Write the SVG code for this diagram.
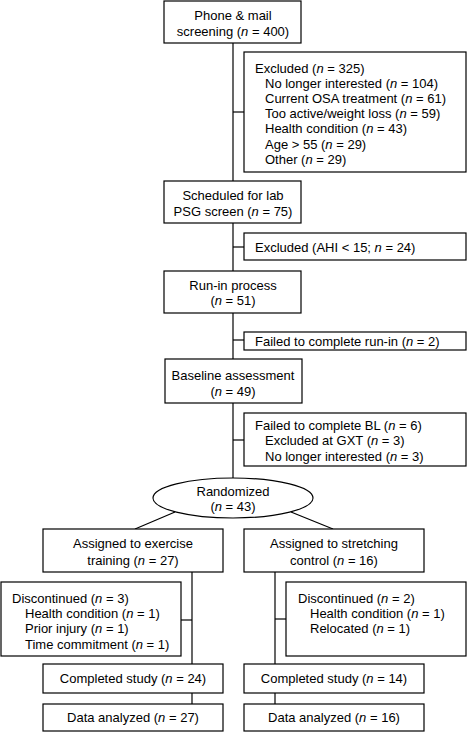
<svg xmlns="http://www.w3.org/2000/svg" width="467" height="732" viewBox="0 0 467 732">
<style>
.box{fill:#fff;stroke:#000;stroke-width:1.2}
.ln{fill:none;stroke:#000;stroke-width:1.2}
text{font-family:"Liberation Sans",Arial,sans-serif;font-size:13px;fill:#000}
.c{text-anchor:middle}
.i{font-style:italic}
</style>
<rect width="467" height="732" fill="#fff"/>
<g id="connectors">
<line class="ln" x1="233" y1="43" x2="233" y2="478"/>
<line class="ln" x1="233" y1="112" x2="244" y2="112"/>
<line class="ln" x1="233" y1="247" x2="244" y2="247"/>
<line class="ln" x1="233" y1="340" x2="244" y2="340"/>
<line class="ln" x1="233" y1="440" x2="244" y2="440"/>
<line class="ln" x1="175" y1="512" x2="135" y2="529"/>
<line class="ln" x1="291" y1="512" x2="333" y2="529"/>
<line class="ln" x1="192" y1="572" x2="192" y2="704"/>
<line class="ln" x1="181" y1="620" x2="192" y2="620"/>
<line class="ln" x1="275" y1="572" x2="275" y2="704"/>
<line class="ln" x1="275" y1="619" x2="286" y2="619"/>
</g>
<g id="screening">
<rect class="box" x="164" y="1" width="137" height="42"/>
<text class="c" x="233" y="20">Phone &amp; mail</text>
<text class="c" x="233" y="36">screening (<tspan class="i">n</tspan> = 400)</text>
</g>
<g id="excluded1">
<rect class="box" x="244" y="52" width="222" height="120"/>
<text x="255" y="73">Excluded (<tspan class="i">n</tspan> = 325)</text>
<text x="265" y="88">No longer interested (<tspan class="i">n</tspan> = 104)</text>
<text x="265" y="103">Current OSA treatment (<tspan class="i">n</tspan> = 61)</text>
<text x="265" y="118">Too active/weight loss (<tspan class="i">n</tspan> = 59)</text>
<text x="265" y="133">Health condition (<tspan class="i">n</tspan> = 43)</text>
<text x="265" y="148.5">Age &gt; 55 (<tspan class="i">n</tspan> = 29)</text>
<text x="265" y="163.5">Other (<tspan class="i">n</tspan> = 29)</text>
</g>
<g id="scheduled">
<rect class="box" x="164" y="181" width="137" height="42"/>
<text class="c" x="233" y="199.5">Scheduled for lab</text>
<text class="c" x="233" y="215.5">PSG screen (<tspan class="i">n</tspan> = 75)</text>
</g>
<g id="excluded2">
<rect class="box" x="244" y="233" width="222" height="27"/>
<text x="255" y="252">Excluded (AHI &lt; 15; <tspan class="i">n</tspan> = 24)</text>
</g>
<g id="runin">
<rect class="box" x="164" y="271" width="137" height="42"/>
<text class="c" x="233" y="289.5">Run-in process</text>
<text class="c" x="233" y="305">(<tspan class="i">n</tspan> = 51)</text>
</g>
<g id="failedrunin">
<rect class="box" x="244" y="332" width="222" height="18"/>
<text x="255" y="345.5">Failed to complete run-in (<tspan class="i">n</tspan> = 2)</text>
</g>
<g id="baseline">
<rect class="box" x="165" y="359" width="137" height="44"/>
<text class="c" x="233" y="379.5">Baseline assessment</text>
<text class="c" x="233" y="395.5">(<tspan class="i">n</tspan> = 49)</text>
</g>
<g id="failedbl">
<rect class="box" x="244" y="413" width="222" height="53"/>
<text x="255" y="429.5">Failed to complete BL (<tspan class="i">n</tspan> = 6)</text>
<text x="265" y="445">Excluded at GXT (<tspan class="i">n</tspan> = 3)</text>
<text x="265" y="460.5">No longer interested (<tspan class="i">n</tspan> = 3)</text>
</g>
<g id="randomized">
<ellipse class="box" cx="233" cy="498" rx="80" ry="20"/>
<text class="c" x="233" y="495.5">Randomized</text>
<text class="c" x="233" y="510.5">(<tspan class="i">n</tspan> = 43)</text>
</g>
<g id="exercise">
<rect class="box" x="43" y="529" width="180" height="43"/>
<text class="c" x="133" y="547.5">Assigned to exercise</text>
<text class="c" x="133" y="564.5">training (<tspan class="i">n</tspan> = 27)</text>
</g>
<g id="stretching">
<rect class="box" x="244" y="529" width="180" height="43"/>
<text class="c" x="334" y="547.5">Assigned to stretching</text>
<text class="c" x="334" y="564.5">control (<tspan class="i">n</tspan> = 16)</text>
</g>
<g id="disc1">
<rect class="box" x="1" y="582" width="180" height="74"/>
<text x="12" y="602.5">Discontinued (<tspan class="i">n</tspan> = 3)</text>
<text x="25" y="617.5">Health condition (<tspan class="i">n</tspan> = 1)</text>
<text x="25" y="632.5">Prior injury (<tspan class="i">n</tspan> = 1)</text>
<text x="25" y="648.5">Time commitment (<tspan class="i">n</tspan> = 1)</text>
</g>
<g id="disc2">
<rect class="box" x="286" y="582" width="180" height="74"/>
<text x="298" y="602.5">Discontinued (<tspan class="i">n</tspan> = 2)</text>
<text x="310" y="617.5">Health condition (<tspan class="i">n</tspan> = 1)</text>
<text x="310" y="632.5">Relocated (<tspan class="i">n</tspan> = 1)</text>
</g>
<g id="completed1">
<rect class="box" x="43" y="664" width="180" height="29"/>
<text class="c" x="133" y="683">Completed study (<tspan class="i">n</tspan> = 24)</text>
</g>
<g id="completed2">
<rect class="box" x="244" y="664" width="180" height="29"/>
<text class="c" x="334" y="683">Completed study (<tspan class="i">n</tspan> = 14)</text>
</g>
<g id="analyzed1">
<rect class="box" x="43" y="704" width="180" height="27"/>
<text class="c" x="133" y="722">Data analyzed (<tspan class="i">n</tspan> = 27)</text>
</g>
<g id="analyzed2">
<rect class="box" x="244" y="704" width="180" height="27"/>
<text class="c" x="334" y="722">Data analyzed (<tspan class="i">n</tspan> = 16)</text>
</g>
</svg>
